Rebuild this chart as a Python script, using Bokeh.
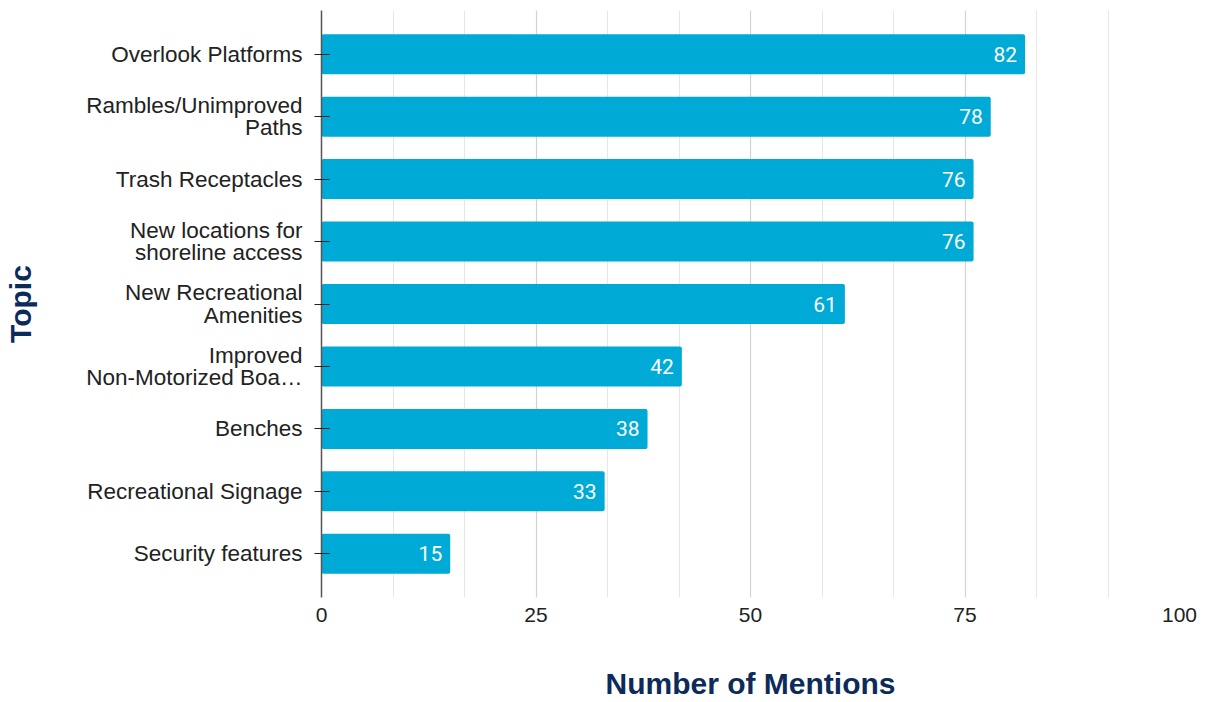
from bokeh.plotting import figure
from bokeh.models import FactorRange, FixedTicker, ColumnDataSource, LabelSet
from bokeh.core.properties import value
from bokeh.embed import file_html
from bokeh.resources import INLINE

topics = [
    "Overlook Platforms",
    "Rambles/Unimproved\nPaths",
    "Trash Receptacles",
    "New locations for\nshoreline access",
    "New Recreational\nAmenities",
    "Improved\nNon-Motorized Boa\u2026",
    "Benches",
    "Recreational Signage",
    "Security features",
]
mentions = [82, 78, 76, 76, 61, 42, 38, 33, 15]
x_ticks = [0, 25, 50, 75, 100]
x_minor = [0, 25/3, 50/3, 25, 100/3, 125/3, 50, 175/3, 200/3, 75, 250/3, 275/3, 100]

BAR = "#00aad6"
NAVY = "#0c2b5a"

src = ColumnDataSource(dict(topic=topics, n=mentions, lbl=[str(v) for v in mentions]))

p = figure(
    width=1200, height=702,
    y_range=FactorRange(factors=topics[::-1], range_padding=0.2, range_padding_units="absolute"),
    x_range=(0, 100),
    output_backend="svg", toolbar_location=None,
    min_border_left=321, min_border_right=21, min_border_top=10, min_border_bottom=104,
)
p.outline_line_color = None
p.background_fill_color = "white"

p.hbar(y="topic", right="n", left=0, height=0.64, source=src, color=BAR, line_color=None,
       border_radius=2)

labels = LabelSet(x="n", y="topic", text="lbl", source=src, x_offset=-8,
                  text_align="right", text_baseline="middle", text_color="white",
                  text_font=value("Roboto"), text_font_size="21px")
p.add_layout(labels)

# x axis
p.xaxis.ticker = FixedTicker(ticks=x_ticks, minor_ticks=x_minor)
p.xaxis.axis_line_color = None
p.xaxis.major_tick_line_color = None
p.xaxis.minor_tick_line_color = None
p.xaxis.major_label_text_font = "Liberation Sans"
p.xaxis.major_label_text_font_size = "21px"
p.xaxis.major_label_text_color = "#222222"
p.xaxis.major_label_standoff = 4
p.xaxis.axis_label = "Number of Mentions"
p.xaxis.axis_label_text_font = "Liberation Sans"
p.xaxis.axis_label_text_font_style = "bold"
p.xaxis.axis_label_text_font_size = "30px"
p.xaxis.axis_label_text_line_height = 0.8
p.xaxis.axis_label_text_color = NAVY
p.xaxis.axis_label_standoff = 42

# y axis
p.yaxis.axis_line_color = "#555555"
p.yaxis.axis_line_width = 1.5
p.yaxis.major_tick_line_color = "#222222"
p.yaxis.major_tick_line_width = 1.2
p.yaxis.major_tick_out = 7
p.yaxis.major_tick_in = 8
p.yaxis.major_label_standoff = 12
p.yaxis.major_label_text_font = "Liberation Sans"
p.yaxis.major_label_text_font_size = "22.5px"
p.yaxis.major_label_text_line_height = 0.9
p.yaxis.major_label_text_color = "#222222"
p.yaxis.axis_label = "Topic"
p.yaxis.axis_label_text_font = "Liberation Sans"
p.yaxis.axis_label_text_font_style = "bold"
p.yaxis.axis_label_text_font_size = "30px"
p.yaxis.axis_label_text_color = NAVY
p.yaxis.axis_label_standoff = 46

# grids
p.ygrid.grid_line_color = None
p.xgrid.grid_line_color = "#d2d2d2"
p.xgrid.grid_line_width = 1.2
p.xgrid.minor_grid_line_color = "#e6e6e6"
p.xgrid.minor_grid_line_width = 1

open("out.html", "w").write(file_html(p, INLINE))
